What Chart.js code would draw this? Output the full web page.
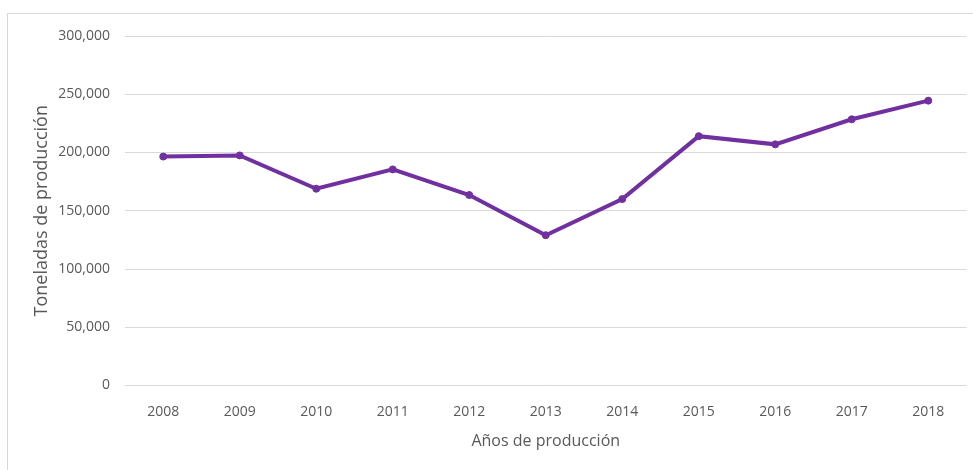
<!DOCTYPE html>
<html>
<head>
<meta charset="utf-8">
<script src="https://cdn.jsdelivr.net/npm/chart.js@4"></script>
<style>
  html, body { margin: 0; padding: 0; background: #fff; }
  #wrap { width: 973px; height: 470px; }
</style>
</head>
<body>
<div id="wrap"><canvas id="chart" width="973" height="470"></canvas></div>
<script>
const years = ['2008', '2009', '2010', '2011', '2012', '2013', '2014', '2015', '2016', '2017', '2018'];
const toneladas = [196500, 197500, 168900, 185500, 163500, 129000, 160000, 214000, 207000, 228500, 244500];
const yTicks = [0, 50000, 100000, 150000, 200000, 250000, 300000];

const lineColor = '#7030A0';
const textColor = '#595959';

// border around the chart, like the office frame
const frame = {
    id: 'frame',
    beforeDraw(chart) {
        const c = chart.ctx;
        c.save();
        c.strokeStyle = '#d9d9d9';
        c.lineWidth = 1;
        c.strokeRect(7.5, 13.5, 1000, 1000);
        c.restore();
    }
};

const ctx = document.getElementById('chart').getContext('2d');
const chart = new Chart(ctx, {
    type: 'line',
    data: {
        labels: years,
        datasets: [{
            label: 'Toneladas de producción',
            data: toneladas,
            borderColor: lineColor,
            backgroundColor: lineColor,
            borderWidth: 4,
            pointRadius: 3.5,
            pointBorderWidth: 1,
            pointHoverRadius: 3.5,
            tension: 0
        }]
    },
    options: {
        responsive: false,
        animation: false,
        layout: { padding: { left: 0, top: 36, right: 6.5, bottom: 0 } },
        plugins: {
            legend: { display: false },
            tooltip: { enabled: false }
        },
        scales: {
            x: {
                offset: true,
                grid: { display: false, drawTicks: false },
                border: { display: false },
                ticks: {
                    color: textColor,
                    font: { family: 'Open Sans', size: 14 },
                    padding: 18,
                    maxRotation: 0
                },
                title: {
                    display: true,
                    text: 'Años de producción',
                    color: textColor,
                    font: { family: 'Open Sans', size: 16 },
                    padding: { top: 0, bottom: 18.7 }
                },
                afterFit(scale) { scale.height = 84.5; }
            },
            y: {
                min: 0,
                max: 300000,
                afterBuildTicks(scale) {
                    scale.ticks = yTicks.map(v => ({ value: v }));
                },
                grid: { color: '#d9d9d9', lineWidth: 1, drawTicks: false },
                border: { display: false },
                ticks: {
                    color: textColor,
                    font: { family: 'Open Sans', size: 14 },
                    padding: 15,
                    callback: v => v.toLocaleString('en-US')
                },
                title: {
                    display: true,
                    text: 'Toneladas de producción',
                    color: textColor,
                    font: { family: 'Open Sans', size: 18 },
                    padding: { top: 31, bottom: 0 }
                },
                afterFit(scale) { scale.width = 125; }
            }
        }
    },
    plugins: [frame]
});
</script>
</body>
</html>
